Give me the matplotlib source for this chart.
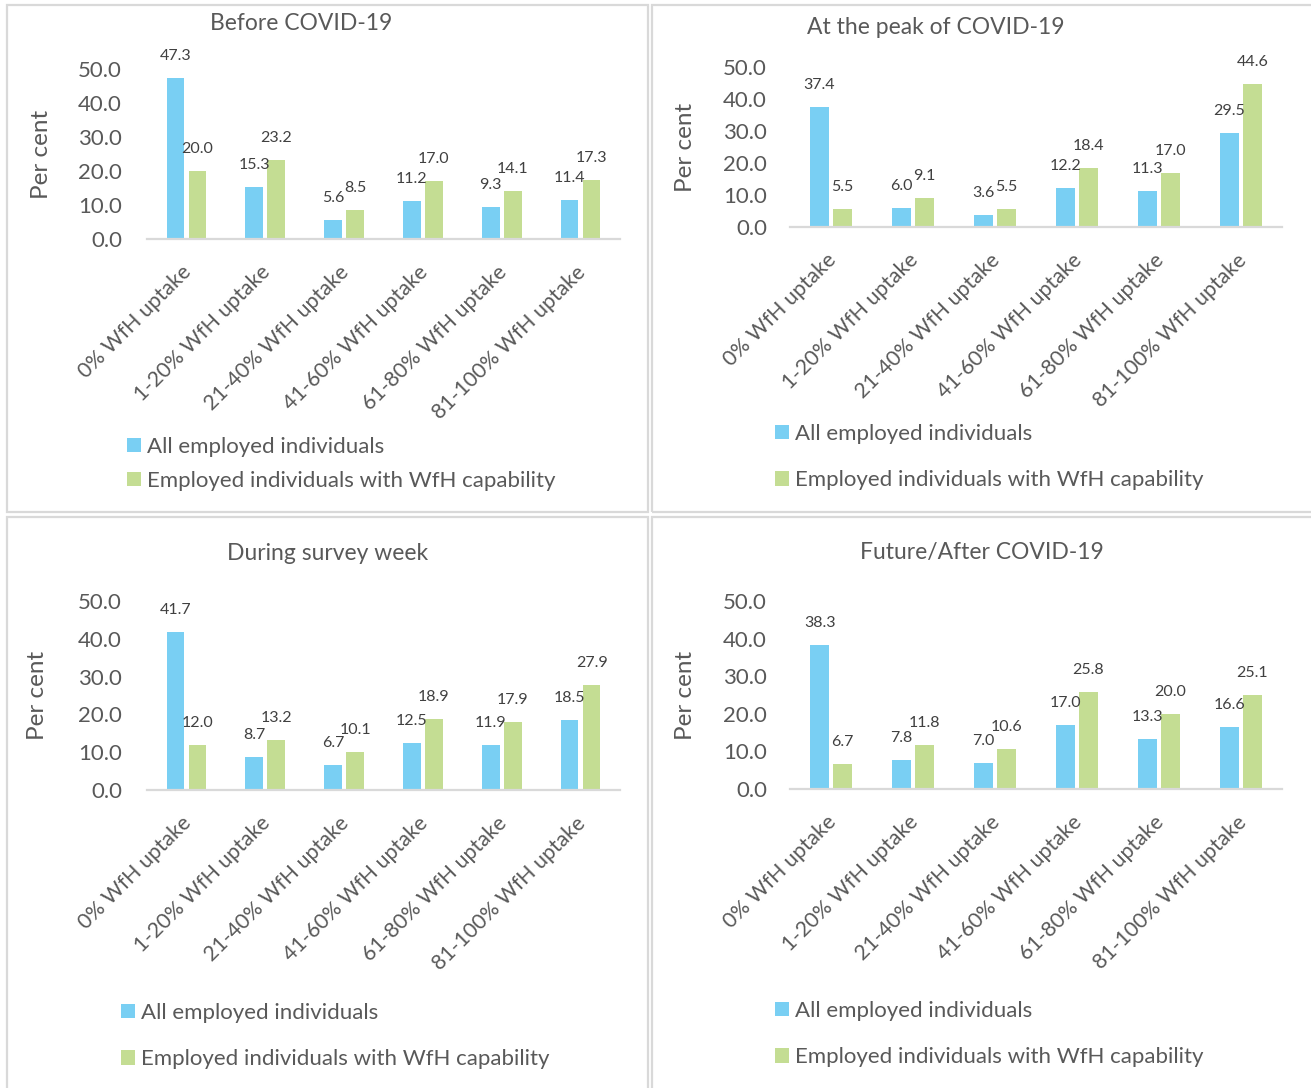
import matplotlib
matplotlib.use("Agg")
import matplotlib.pyplot as plt
from matplotlib.patches import Rectangle, Patch
from matplotlib.transforms import blended_transform_factory, offset_copy

plt.rcParams['font.family'] = ['Lato', 'DejaVu Sans']

categories = ['0% WfH uptake', '1-20% WfH uptake', '21-40% WfH uptake',
              '41-60% WfH uptake', '61-80% WfH uptake', '81-100% WfH uptake']
series_names = ['All employed individuals', 'Employed individuals with WfH capability']

titles = ['Before COVID-19', 'At the peak of COVID-19',
          'During survey week', 'Future/After COVID-19']

before_all = [47.3, 15.3, 5.6, 11.2, 9.3, 11.4]
before_cap = [20.0, 23.2, 8.5, 17.0, 14.1, 17.3]
peak_all = [37.4, 6.0, 3.6, 12.2, 11.3, 29.5]
peak_cap = [5.5, 9.1, 5.5, 18.4, 17.0, 44.6]
survey_all = [41.7, 8.7, 6.7, 12.5, 11.9, 18.5]
survey_cap = [12.0, 13.2, 10.1, 18.9, 17.9, 27.9]
future_all = [38.3, 7.8, 7.0, 17.0, 13.3, 16.6]
future_cap = [6.7, 11.8, 10.6, 25.8, 20.0, 25.1]

yticks = [0, 10, 20, 30, 40, 50]

BLUE = '#79CFF3'
GREEN = '#C4DD93'
TEXT = '#595959'
LINE = '#D9D9D9'

W, H = 1311, 1088
fig = plt.figure(figsize=(W / 100, H / 100), dpi=100)


def rect(l, t, r, b):
    return [l / W, 1 - b / H, (r - l) / W, (b - t) / H]


# panel frames (left, top, right, bottom in pixels)
frames = [(7, 5, 648, 512), (652, 5, 1320, 512),
          (7, 517, 648, 1100), (652, 517, 1320, 1100)]
for l, t, r, b in frames:
    fig.patches.append(Rectangle((l / W, 1 - b / H), (r - l) / W, (b - t) / H,
                                 transform=fig.transFigure, fill=False,
                                 edgecolor=LINE, linewidth=1.6))

panels = [
    dict(data=(before_all, before_cap), ax=(147, 69, 620, 239), title_y=24,
         title_x=301, ylab_x=42, legend=(127, 437), spacing=0.63, pad=18),
    dict(data=(peak_all, peak_cap), ax=(790, 67, 1282, 227), title_y=28,
         title_x=936, ylab_x=686, legend=(775, 424), spacing=1.18, pad=16.5),
    dict(data=(survey_all, survey_cap), ax=(147, 601, 620, 790), title_y=553,
         title_x=328, ylab_x=37, legend=(121, 1003), spacing=1.18, pad=18),
    dict(data=(future_all, future_cap), ax=(790, 601, 1282, 789), title_y=553,
         title_x=982, ylab_x=686, legend=(775, 1001), spacing=1.18, pad=16.5),
]

bw = 0.225
gap = 0.055
x = list(range(len(categories)))

for p, title in zip(panels, titles):
    ax = fig.add_axes(rect(*p['ax']))
    vals_a, vals_b = p['data']
    xa = [i - (bw + gap) / 2 for i in x]
    xb = [i + (bw + gap) / 2 for i in x]
    ax.bar(xa, vals_a, width=bw, color=BLUE)
    ax.bar(xb, vals_b, width=bw, color=GREEN)
    for xs, vs in ((xa, vals_a), (xb, vals_b)):
        for xi, v in zip(xs, vs):
            ax.annotate(f'{v:.1f}', (xi, v), xytext=(0, 22),
                        textcoords='offset pixels', ha='center', va='center',
                        fontsize=11.5, color='#404040')
    ax.set_xlim(-0.5, len(categories) - 0.5)
    ax.set_ylim(0, 50)
    ax.set_yticks(yticks)
    ax.set_yticklabels([f'{v:.1f}' for v in yticks], fontsize=16, color=TEXT)
    ax.tick_params(axis='y', length=0, pad=p['pad'])
    ax.set_xticks([])
    for s in ('top', 'right', 'left'):
        ax.spines[s].set_visible(False)
    ax.spines['bottom'].set_color(LINE)
    ax.spines['bottom'].set_linewidth(1.6)

    # rotated category labels
    tr = blended_transform_factory(ax.transData, ax.transAxes)
    tr = offset_copy(tr, fig=fig, x=2, y=-30, units='dots')
    for i, c in enumerate(categories):
        ax.text(i, 0, c, transform=tr, rotation=45, rotation_mode='anchor',
                ha='right', va='center', fontsize=15.3, color=TEXT)

    fig.text(p['title_x'] / W, 1 - p['title_y'] / H, title, ha='center',
             va='center', fontsize=16.5, color=TEXT)
    l, t, r, b = p['ax']
    fig.text(p['ylab_x'] / W, 1 - ((t + b) / 2) / H, 'Per cent', rotation=90,
             ha='center', va='center', fontsize=17.5, color=TEXT)

    handles = [Patch(facecolor=BLUE), Patch(facecolor=GREEN)]
    lx, ly = p['legend']
    fig.legend(handles, series_names, loc='upper left',
               bbox_to_anchor=(lx / W, 1 - ly / H), frameon=False,
               fontsize=16, labelcolor=TEXT, handlelength=0.62,
               handleheight=0.62, handletextpad=0.3, borderpad=0,
               borderaxespad=0, labelspacing=p['spacing'])

fig.savefig('out.png', dpi=100)
